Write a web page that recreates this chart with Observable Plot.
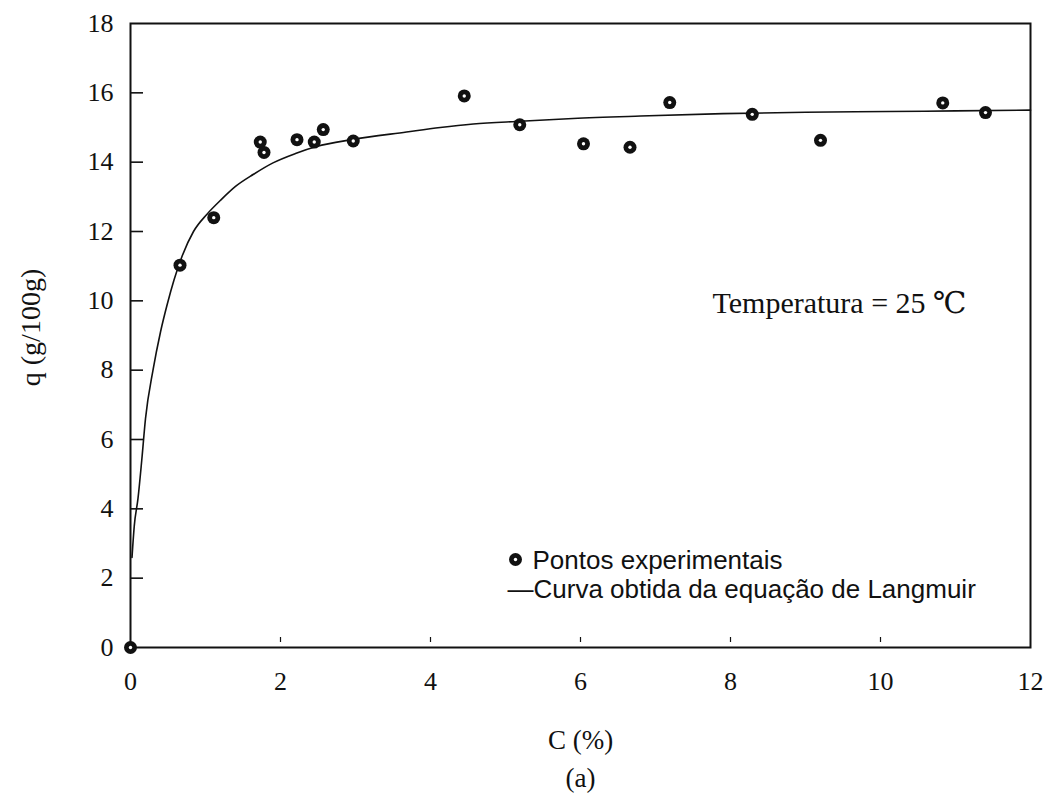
<!DOCTYPE html>
<html>
<head>
<meta charset="utf-8">
<script src="https://cdn.jsdelivr.net/npm/d3@7"></script>
<script src="https://cdn.jsdelivr.net/npm/@observablehq/plot@0.6"></script>
<style>
  html, body { margin: 0; padding: 0; background: #fff; }
  #chart svg { display: block; }
</style>
</head>
<body>
<div id="chart"></div>
<script>
// Experimental adsorption points: concentration C (%) and uptake q (g/100g)
const pointC = [0, 0.66, 1.11, 1.73, 1.78, 2.22, 2.45, 2.57, 2.97, 4.45, 5.19, 6.04, 6.66, 7.19, 8.29, 9.20, 10.83, 11.40];
const pointQ = [0, 11.03, 12.40, 14.58, 14.28, 14.65, 14.58, 14.94, 14.61, 15.91, 15.08, 14.53, 14.43, 15.72, 15.38, 14.63, 15.71, 15.43];

// Langmuir isotherm curve, sampled along C
const curveC = [0.02, 0.05, 0.1, 0.15, 0.2, 0.3, 0.4, 0.49, 0.58, 0.69, 0.84, 1.02, 1.2, 1.4, 1.64, 1.9, 2.2, 2.48, 2.95, 3.68, 4.13, 4.57, 5.2, 5.9, 6.8, 7.9, 9.0, 10.1, 11.0, 12.0];
const curveQ = [2.6, 3.5, 4.3, 5.4, 6.6, 8.0, 9.1, 9.9, 10.6, 11.3, 12.0, 12.5, 12.9, 13.3, 13.65, 13.98, 14.25, 14.45, 14.65, 14.87, 15.0, 15.1, 15.18, 15.26, 15.33, 15.4, 15.44, 15.46, 15.48, 15.5];

// Axis tick values
const xTickLabels = [0, 2, 4, 6, 8, 10, 12];
const yTickLabels = [0, 2, 4, 6, 8, 10, 12, 14, 16, 18];
const xTickMarks = [2, 4, 6, 8, 10];
const yTickMarks = [2, 4, 6, 8, 10, 12, 14, 16];

// Text
const xLabel = "C (%)";
const yLabel = "q (g/100g)";
const panelLabel = "(a)";
const tempNote = "Temperatura = 25 \u2103";
const legendPoints = "Pontos experimentais";
const legendCurve = "\u2014Curva obtida da equação de Langmuir";

const points = pointC.map((c, i) => ({c, q: pointQ[i]}));
const curve = curveC.map((c, i) => ({c, q: curveQ[i]}));

const serif = "'Liberation Serif', 'Times New Roman', 'DejaVu Serif', serif";
const sans = "'Liberation Sans', Arial, sans-serif";

const W = 1045, H = 795;
const mL = 130, mR = 15, mT = 23, mB = 148;
const frameW = W - mL - mR, frameH = H - mT - mB;

// filled marker with a small light centre
const marker = (data, opts) => [
  Plot.dot(data, {...opts, r: 6.5, fill: "#111", stroke: "none"}),
  Plot.dot(data, {...opts, r: 1.7, fill: "#fff", stroke: "none"})
];

const chart = Plot.plot({
  width: W,
  height: H,
  marginLeft: mL,
  marginRight: mR,
  marginTop: mT,
  marginBottom: mB,
  style: {fontFamily: serif, color: "#111", background: "#fff"},
  x: {domain: [0, 12]},
  y: {domain: [0, 18]},
  marks: [
    Plot.frame({stroke: "#111", strokeWidth: 2}),
    // inward tick marks
    Plot.tickY(yTickMarks, {y: d => d, stroke: "#111", strokeWidth: 1.6, insetRight: frameW - 13}),
    Plot.tickX(xTickMarks, {x: d => d, stroke: "#111", strokeWidth: 1.2, insetTop: frameH - 10, insetBottom: 5}),
    Plot.axisY(yTickLabels, {tickSize: 0, tickPadding: 17, fontSize: 26, fontFamily: serif, label: null}),
    Plot.axisX(xTickLabels, {tickSize: 0, tickPadding: 24, fontSize: 26, fontFamily: serif, label: null}),
    // Langmuir curve
    Plot.line(curve, {x: "c", y: "q", stroke: "#111", strokeWidth: 1.6, curve: "monotone-x"}),
    // experimental points
    ...marker(points, {x: "c", y: "q"}),
    // axis titles
    Plot.text([xLabel], {frameAnchor: "bottom", dy: 93, fontSize: 27, fontFamily: serif, textAnchor: "middle", lineAnchor: "middle", fill: "#111"}),
    Plot.text([panelLabel], {frameAnchor: "bottom", dy: 131, fontSize: 27, fontFamily: serif, textAnchor: "middle", lineAnchor: "middle", fill: "#111"}),
    Plot.text([yLabel], {frameAnchor: "left", dx: -99, dy: -8, rotate: -90, fontSize: 28, fontFamily: serif, textAnchor: "middle", lineAnchor: "middle", fill: "#111"}),
    // annotation
    Plot.text([tempNote], {frameAnchor: "top-left", dx: 582, dy: 289, fontSize: 30, fontFamily: serif, textAnchor: "start", lineAnchor: "bottom", fill: "#111"}),
    // legend
    ...marker([legendPoints], {frameAnchor: "bottom-left", dx: 385, dy: -88}),
    Plot.text([legendPoints], {frameAnchor: "bottom-left", dx: 402, dy: -79, fontSize: 26, fontFamily: sans, textAnchor: "start", lineAnchor: "bottom", fill: "#111"}),
    Plot.text([legendCurve], {frameAnchor: "bottom-left", dx: 377, dy: -50, fontSize: 26, fontFamily: sans, textAnchor: "start", lineAnchor: "bottom", fill: "#111"})
  ]
});

document.getElementById("chart").appendChild(chart);
</script>
</body>
</html>
